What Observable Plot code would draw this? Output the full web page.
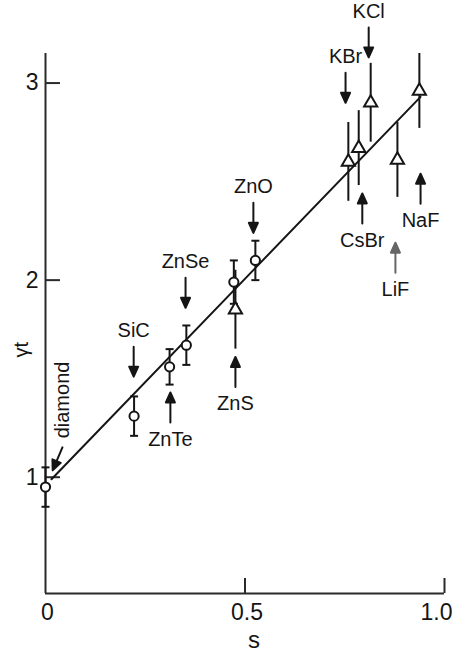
<!DOCTYPE html>
<html>
<head>
<meta charset="utf-8">
<script src="https://cdn.jsdelivr.net/npm/d3@7"></script>
<script src="https://cdn.jsdelivr.net/npm/@observablehq/plot@0.6"></script>
<style>
  html, body { margin: 0; padding: 0; background: #fff; }
  #chart svg { display: block; }
</style>
</head>
<body>
<div id="chart"></div>
<script>
// γt against s: circles with capped error bars, triangles with plain error bars
const circleNames = ["diamond", "SiC", "ZnTe", "ZnSe", "ZnS", "ZnO"];
const circleS     = [0, 0.222, 0.311, 0.353, 0.472, 0.526];
const circleG     = [0.95, 1.31, 1.56, 1.67, 1.99, 2.10];
const circleErr   = [0.10, 0.10, 0.09, 0.10, 0.11, 0.10];

const triangleNames = ["ZnS", "KBr", "CsBr", "KCl", "LiF", "NaF"];
const triangleS     = [0.476, 0.759, 0.785, 0.815, 0.882, 0.937];
const triangleG     = [1.85, 2.60, 2.67, 2.90, 2.61, 2.96];
const triangleErr   = [0.20, 0.20, 0.19, 0.20, 0.19, 0.19];

// straight-line fit
const fitS = [0.015, 0.94];
const fitG = [0.99, 2.93];

// labelled arrows: the (s, γt) each arrow points at and which way it points
const noteNames = ["SiC", "ZnTe", "ZnSe", "ZnS", "ZnO", "KBr", "KCl", "CsBr", "LiF", "NaF"];
const noteS     = [0.221, 0.313, 0.351, 0.476, 0.521, 0.752, 0.810, 0.794, 0.877, 0.940];
const noteG     = [1.51, 1.43, 1.86, 1.61, 2.24, 2.90, 3.13, 2.44, 2.19, 2.54];
const noteDir   = ["down", "up", "down", "up", "down", "down", "down", "up", "up", "up"];

const diamondNoteS = [0.018];
const diamondNoteG = [1.035];

const xDomain = [0, 1];
const yDomain = [0.41, 3.15];
const xTicks = [0, 0.5, 1];
const xTickLabels = ["0", "0.5", "1.0"];
const yTicks = [1, 2, 3];
const yTickLabels = ["1", "2", "3"];

const circles = circleNames.map((name, i) => ({name, s: circleS[i], g: circleG[i], lo: circleG[i] - circleErr[i], hi: circleG[i] + circleErr[i]}));
const triangles = triangleNames.map((name, i) => ({name, s: triangleS[i], g: triangleG[i], lo: triangleG[i] - triangleErr[i], hi: triangleG[i] + triangleErr[i]}));
const fit = fitS.map((s, i) => ({s, g: fitG[i]}));
const notes = noteNames.map((name, i) => ({name, s: noteS[i], g: noteG[i], dir: noteDir[i]}));
const diamondNote = [{name: "diamond", s: diamondNoteS[0], g: diamondNoteG[0]}];

const ink = "#151515";
const axisInk = "#2a2a2a";

// arrow with a solid triangular head, drawn upward from the origin
const arrowShape = {
  draw(context, l) {
    const h = 10, w = 4.5;
    context.moveTo(0, 0);
    context.lineTo(0, -(l - h));
    context.moveTo(-w, -(l - h));
    context.lineTo(0, -l);
    context.lineTo(w, -(l - h));
    context.closePath();
  }
};

// short horizontal bar used as an error-bar cap
const capSymbol = {
  draw(context) {
    context.moveTo(-4, 0);
    context.lineTo(4, 0);
  }
};

const W = 456, H = 651;
const mL = 45, mR = 12, mT = 53, mB = 58;
const frameW = W - mL - mR, frameH = H - mT - mB;
const tickLen = 15;

const fmtX = d => xTickLabels[xTicks.indexOf(d)];
const fmtY = d => yTickLabels[yTicks.indexOf(d)];

const plot = Plot.plot({
  width: W,
  height: H,
  marginLeft: mL,
  marginRight: mR,
  marginTop: mT,
  marginBottom: mB,
  x: {domain: xDomain},
  y: {domain: yDomain},
  style: {
    fontFamily: "'Liberation Sans', Arial, Helvetica, sans-serif",
    fontSize: "20px",
    color: ink,
    background: "#fff"
  },
  marks: [
    // axis lines and inward ticks
    Plot.ruleX([xDomain[0]], {stroke: axisInk, strokeWidth: 2}),
    Plot.ruleY([yDomain[0]], {stroke: axisInk, strokeWidth: 2}),
    Plot.tickY(yTicks, {y: d => d, insetRight: frameW - tickLen, stroke: axisInk, strokeWidth: 2}),
    Plot.tickX(xTicks.slice(1), {x: d => d, insetTop: frameH - tickLen, stroke: axisInk, strokeWidth: 2}),
    Plot.axisY({ticks: yTicks, tickFormat: fmtY, tickSize: 0, tickPadding: 7, fontSize: 23, label: null}),
    Plot.axisX({ticks: xTicks.slice(0, 2), tickFormat: fmtX, tickSize: 0, tickPadding: 10, fontSize: 23, label: null, dx: 2}),
    Plot.axisX({ticks: xTicks.slice(2), tickFormat: fmtX, tickSize: 0, tickPadding: 10, fontSize: 23, label: null, dx: -8}),

    // fit line
    Plot.line(fit, {x: "s", y: "g", stroke: ink, strokeWidth: 2}),

    // error bars
    Plot.ruleX(circles, {x: "s", y1: "lo", y2: "hi", stroke: ink, strokeWidth: 2}),
    Plot.dot(circles, {x: "s", y: "lo", symbol: capSymbol, stroke: ink, strokeWidth: 2}),
    Plot.dot(circles, {x: "s", y: "hi", symbol: capSymbol, stroke: ink, strokeWidth: 2}),
    Plot.ruleX(triangles, {x: "s", y1: "lo", y2: "hi", stroke: ink, strokeWidth: 2}),

    // data symbols
    Plot.dot(circles, {x: "s", y: "g", r: 4.6, fill: "#fff", stroke: ink, strokeWidth: 2}),
    Plot.dot(triangles, {x: "s", y: "g", symbol: "triangle", r: 4.9, fill: "#fff", stroke: ink, strokeWidth: 2}),

    // labelled arrows
    Plot.vector(notes.filter(d => d.name !== "LiF"), {
      x: "s", y: "g", rotate: d => (d.dir === "up" ? 0 : 180),
      length: 30, anchor: "end", shape: arrowShape,
      stroke: ink, fill: ink, strokeWidth: 2
    }),
    Plot.vector(notes.filter(d => d.name === "LiF"), {
      x: "s", y: "g", rotate: 0,
      length: 30, anchor: "end", shape: arrowShape,
      stroke: "#666", fill: "#666", strokeWidth: 2
    }),
    Plot.text(notes.filter(d => d.dir === "down"), {x: "s", y: "g", text: "name", dy: -46, fontSize: 20, fill: ink}),
    Plot.text(notes.filter(d => d.dir === "up"), {x: "s", y: "g", text: "name", dy: 47, fontSize: 20, fill: ink}),

    // diamond: slanted arrow and upright label
    Plot.vector(diamondNote, {
      x: "s", y: "g", rotate: 203, length: 25, anchor: "end", shape: arrowShape,
      stroke: ink, fill: ink, strokeWidth: 2
    }),
    Plot.text(diamondNote, {x: "s", y: "g", text: "name", rotate: -90, textAnchor: "start", dx: 10, dy: -32, fontSize: 20, fill: ink}),

    // axis titles
    Plot.text(["γt"], {frameAnchor: "left", dx: -24, dy: 34, rotate: -90, fontSize: 20, fill: ink, ariaLabel: "y-title"}),
    Plot.text(["s"], {frameAnchor: "bottom", dx: 9, dy: 54, fontSize: 24, lineAnchor: "bottom", fill: ink})
  ]
});

// subscript t on the γ axis title
const yTitle = d3.select(plot).select('g[aria-label="y-title"] text');
if (!yTitle.empty()) {
  yTitle.text("γ");
  yTitle.append("tspan").attr("baseline-shift", "sub").attr("font-size", "14px").text("t");
}

document.getElementById("chart").appendChild(plot);
</script>
</body>
</html>
